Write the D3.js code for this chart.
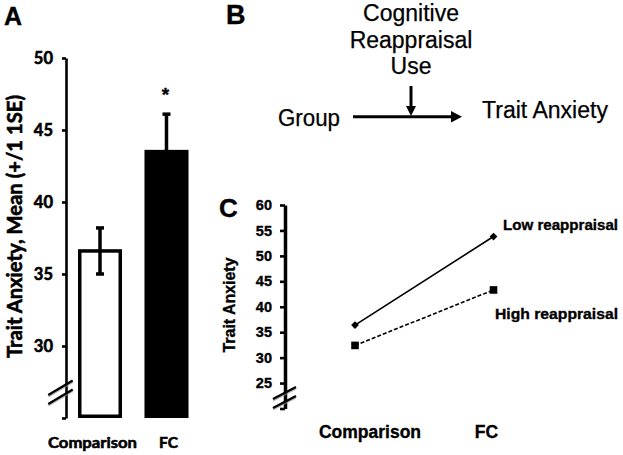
<!DOCTYPE html>
<html>
<head>
<meta charset="utf-8">
<script src="https://cdn.jsdelivr.net/npm/d3@7"></script>
<style>
  html, body { margin: 0; padding: 0; background: #fff; }
  svg { display: block; }
  .heavy { stroke: #000; stroke-width: 0.6px; }
  .heavy2 { stroke: #000; stroke-width: 0.35px; }
</style>
</head>
<body>
<svg id="chart" width="623" height="455"></svg>
<script>
// ---------- data ----------
const groups = ["Comparison", "FC"];
const meanA = [36.6, 43.5];
const seLowA = [35.0, 40.9];
const seHighA = [38.2, 46.1];
const ticksA = [25, 30, 35, 40, 45, 50];
const tickLabelsA = ["", "30", "35", "40", "45", "50"];
const sigLabel = ["", "*"];

const ticksC = [20, 25, 30, 35, 40, 45, 50, 55, 60];
const tickLabelsC = ["", "25", "30", "35", "40", "45", "50", "55", "60"];
const lowReappraisal = [36.4, 53.8];
const highReappraisal = [32.4, 43.3];
const seriesNames = ["Low reappraisal", "High reappraisal"];

const diagramNodes = ["Group", "Trait Anxiety"];
const moderatorLines = ["Cognitive", "Reappraisal", "Use"];

const svg = d3.select("#chart");
const boldCal = "Lato, 'Open Sans', sans-serif";
const arial = "'Liberation Sans', Arial, sans-serif";

// ---------- Panel A ----------
const gA = svg.append("g");
const yA = d3.scaleLinear().domain([25, 50]).range([418, 58]);
const xA = d3.scaleBand().domain(groups).range([64.7, 201.8]).paddingInner(0.338).paddingOuter(0.2);

const axA = gA.append("g").attr("transform", "translate(66,0)")
  .call(d3.axisLeft(yA).tickValues(ticksA).tickSize(4).tickSizeOuter(0).tickPadding(9)
    .tickFormat((d, i) => tickLabelsA[i]));
axA.select(".domain").attr("stroke", "#000").attr("stroke-width", 2.6);
axA.selectAll(".tick line").attr("stroke", "#000").attr("stroke-width", 2.6);
axA.selectAll(".tick text").attr("font-family", boldCal).attr("font-weight", "bold")
  .attr("font-size", 16.5).attr("fill", "#000").attr("class", "heavy");

// bars
gA.selectAll("rect.bar").data(groups).enter().append("rect")
  .attr("class", "bar")
  .attr("x", d => xA(d) + 1.75)
  .attr("width", xA.bandwidth() - 3.5)
  .attr("y", (d, i) => yA(meanA[i]))
  .attr("height", (d, i) => yA(25) - 1.75 - yA(meanA[i]))
  .attr("fill", (d, i) => i === 0 ? "#fff" : "#000")
  .attr("stroke", "#000").attr("stroke-width", 3.5);

// error bars
groups.forEach((g, i) => {
  const cx = xA(g) + xA.bandwidth() / 2;
  gA.append("line").attr("x1", cx).attr("x2", cx)
    .attr("y1", yA(seLowA[i])).attr("y2", yA(seHighA[i]))
    .attr("stroke", "#000").attr("stroke-width", 3.5);
  [seLowA[i], seHighA[i]].forEach(v => {
    gA.append("line").attr("x1", cx - 4).attr("x2", cx + 4)
      .attr("y1", yA(v)).attr("y2", yA(v))
      .attr("stroke", "#000").attr("stroke-width", 3.5);
  });
  if (sigLabel[i]) {
    gA.append("text").attr("x", cx - 1).attr("y", yA(seHighA[i]) - 13)
      .attr("text-anchor", "middle").attr("font-family", arial).attr("font-weight", "bold")
      .attr("font-size", 19).attr("class", "heavy2").text(sigLabel[i]);
  }
});

// category labels
const catDx = [-7.5, 2];
const catW = [89, 19];
gA.selectAll("text.cat").data(groups).enter().append("text")
  .attr("class", "cat heavy")
  .attr("x", (d, i) => xA(d) + xA.bandwidth() / 2 + catDx[i])
  .attr("y", 448)
  .attr("text-anchor", "middle")
  .attr("font-family", boldCal).attr("font-weight", "bold").attr("font-size", 15.5)
  .attr("textLength", (d, i) => catW[i]).attr("lengthAdjust", "spacingAndGlyphs")
  .text(d => d);

// axis break
[[395, 380.5], [404, 389.5]].forEach(([a, b]) => {
  gA.append("line").attr("x1", 48.3).attr("y1", a + 1.5).attr("x2", 72.7).attr("y2", b + 1.5)
    .attr("stroke", "#999").attr("stroke-width", 2.2).attr("opacity", 0.6);
  gA.append("line").attr("x1", 48.3).attr("y1", a).attr("x2", 72.7).attr("y2", b)
    .attr("stroke", "#000").attr("stroke-width", 2.4);
});

// y label
gA.append("text")
  .attr("class", "heavy")
  .attr("transform", "translate(21.5,226.5) rotate(-90)")
  .attr("text-anchor", "middle")
  .attr("font-family", boldCal).attr("font-weight", "bold").attr("font-size", 21)
  .attr("textLength", 263).attr("lengthAdjust", "spacingAndGlyphs")
  .text("Trait Anxiety, Mean (+/1 1SE)");

// panel letter
svg.append("text").attr("x", 4).attr("y", 25).attr("font-family", arial)
  .attr("font-weight", "bold").attr("font-size", 25).attr("class", "heavy2").text("A");

// ---------- Panel B ----------
svg.append("text").attr("x", 226).attr("y", 24).attr("font-family", arial)
  .attr("font-weight", "bold").attr("font-size", 27).attr("class", "heavy2").text("B");

const gB = svg.append("g");
gB.selectAll("text.mod").data(moderatorLines).enter().append("text")
  .attr("class", "mod")
  .attr("x", 411).attr("y", (d, i) => 21 + i * 26.5)
  .attr("text-anchor", "middle").attr("font-family", arial).attr("font-size", 23)
  .attr("stroke", "#000").attr("stroke-width", 0.25)
  .text(d => d);

const nodePos = [{x: 278, y: 126, w: 62}, {x: 482, y: 118, w: 126}];
gB.selectAll("text.node").data(diagramNodes).enter().append("text")
  .attr("class", "node")
  .attr("x", (d, i) => nodePos[i].x).attr("y", (d, i) => nodePos[i].y)
  .attr("font-family", arial).attr("font-size", 23)
  .attr("stroke", "#000").attr("stroke-width", 0.25)
  .attr("textLength", (d, i) => nodePos[i].w).attr("lengthAdjust", "spacingAndGlyphs")
  .text(d => d);

// arrows
gB.append("line").attr("x1", 353).attr("y1", 116.7).attr("x2", 452).attr("y2", 116.7)
  .attr("stroke", "#000").attr("stroke-width", 3);
gB.append("path").attr("d", "M451,111 L462,116.7 L451,122.4 Z").attr("fill", "#000");
gB.append("line").attr("x1", 411).attr("y1", 86).attr("x2", 411).attr("y2", 108)
  .attr("stroke", "#000").attr("stroke-width", 3);
gB.append("path").attr("d", "M406,106 L411,116 L416,106 Z").attr("fill", "#000");

// ---------- Panel C ----------
svg.append("text").attr("x", 219).attr("y", 217).attr("font-family", arial)
  .attr("font-weight", "bold").attr("font-size", 26).attr("class", "heavy2").text("C");

const gC = svg.append("g");
const yC = d3.scaleLinear().domain([20, 60]).range([408.5, 205]);
const xC = d3.scalePoint().domain(groups).range([355, 493.5]);

const axC = gC.append("g").attr("transform", "translate(285,0)")
  .call(d3.axisLeft(yC).tickValues(ticksC).tickSize(5).tickSizeOuter(0).tickPadding(8)
    .tickFormat((d, i) => tickLabelsC[i]));
axC.select(".domain").attr("stroke", "#000").attr("stroke-width", 3.5);
axC.selectAll(".tick line").attr("stroke", "#000").attr("stroke-width", 2.6);
axC.selectAll(".tick text").attr("font-family", arial).attr("font-weight", "bold")
  .attr("font-size", 14.5).attr("fill", "#000").attr("class", "heavy2");

// axis break C
[[399, 387], [408, 396]].forEach(([a, b]) => {
  gC.append("line").attr("x1", 273).attr("y1", a + 1.5).attr("x2", 296).attr("y2", b + 1.5)
    .attr("stroke", "#999").attr("stroke-width", 2.2).attr("opacity", 0.6);
  gC.append("line").attr("x1", 273).attr("y1", a).attr("x2", 296).attr("y2", b)
    .attr("stroke", "#000").attr("stroke-width", 2.4);
});

const line = d3.line().x((d, i) => xC(groups[i])).y(d => yC(d));
gC.append("path").datum(lowReappraisal).attr("d", line)
  .attr("fill", "none").attr("stroke", "#000").attr("stroke-width", 1.6);
gC.append("path").datum(highReappraisal).attr("d", line)
  .attr("fill", "none").attr("stroke", "#000").attr("stroke-width", 1.6)
  .attr("stroke-dasharray", "4,2");

const diamond = d3.symbol().type(d3.symbolDiamond2).size(38);
gC.selectAll("path.lowpt").data(lowReappraisal).enter().append("path")
  .attr("class", "lowpt")
  .attr("transform", (d, i) => `translate(${xC(groups[i])},${yC(d)})`)
  .attr("d", diamond).attr("fill", "#000");
gC.selectAll("rect.highpt").data(highReappraisal).enter().append("rect")
  .attr("class", "highpt")
  .attr("x", (d, i) => xC(groups[i]) - 3.8).attr("y", d => yC(d) - 3.8)
  .attr("width", 7.6).attr("height", 7.6).attr("fill", "#000");

// series labels
const seriesLabelPos = [{x: 503, y: 229.5, w: 115}, {x: 495, y: 318.5, w: 123}];
gC.selectAll("text.series").data(seriesNames).enter().append("text")
  .attr("class", "series heavy2")
  .attr("x", (d, i) => seriesLabelPos[i].x).attr("y", (d, i) => seriesLabelPos[i].y)
  .attr("font-family", arial).attr("font-weight", "bold").attr("font-size", 15)
  .attr("textLength", (d, i) => seriesLabelPos[i].w).attr("lengthAdjust", "spacingAndGlyphs")
  .text(d => d);

// category labels C
const catCdx = [15, -7];
gC.selectAll("text.catc").data(groups).enter().append("text")
  .attr("class", "catc heavy2")
  .attr("x", (d, i) => xC(d) + catCdx[i]).attr("y", 438)
  .attr("text-anchor", "middle")
  .attr("font-family", arial).attr("font-weight", "bold").attr("font-size", 17.5)
  .text(d => d);

// y label C
gC.append("text")
  .attr("class", "heavy2")
  .attr("transform", "translate(234.5,305) rotate(-90)")
  .attr("text-anchor", "middle")
  .attr("font-family", arial).attr("font-weight", "bold").attr("font-size", 16)
  .attr("textLength", 95).attr("lengthAdjust", "spacingAndGlyphs")
  .text("Trait Anxiety");
</script>
</body>
</html>
